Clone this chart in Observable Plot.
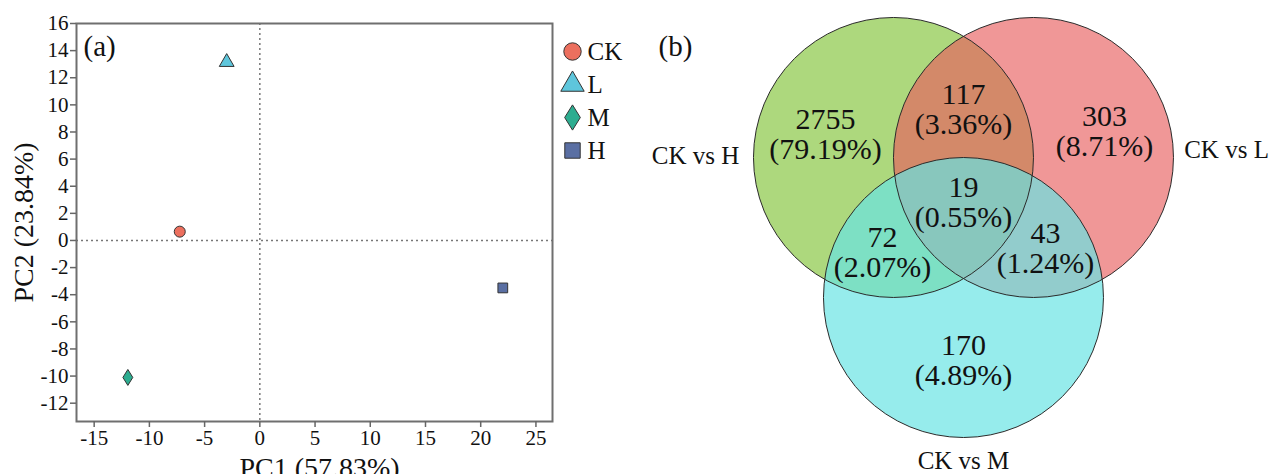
<!DOCTYPE html>
<html><head><meta charset="utf-8">
<script src="https://cdn.jsdelivr.net/npm/d3@7"></script>
<script src="https://cdn.jsdelivr.net/npm/@observablehq/plot@0.6"></script>
<style>
html,body{margin:0;padding:0;background:#fff;}
#wrap{position:relative;width:1270px;height:474px;overflow:hidden;font-family:"Liberation Serif","Times New Roman",serif;}
#wrap svg{position:absolute;top:0;overflow:visible;}
</style></head><body><div id="wrap"></div>
<script>
// ---------- data: panel (a) PCA ----------
const groups = ["CK", "L", "M", "H"];
const pc1 = [-7.25, -3.0, -11.95, 22.0];
const pc2 = [0.65, 13.15, -10.1, -3.5];
const xTicks = [-15, -10, -5, 0, 5, 10, 15, 20, 25];
const yTicks = [-12, -10, -8, -6, -4, -2, 0, 2, 4, 6, 8, 10, 12, 14, 16];
const xLabel = "PC1 (57.83%)";
const yLabel = "PC2 (23.84%)";

// ---------- data: panel (b) Venn ----------
const sets = ["CK vs H", "CK vs L", "CK vs M"];
const regions = ["H", "H∩L", "L", "H∩L∩M", "H∩M", "L∩M", "M"];
const counts = [2755, 117, 303, 19, 72, 43, 170];
const percents = ["79.19%", "3.36%", "8.71%", "0.55%", "2.07%", "1.24%", "4.89%"];

// ---------- styles ----------
const serif = "'Liberation Serif', 'Times New Roman', serif";
const groupFill = ["#EC6F5E", "#5EC6DC", "#2DAD90", "#5A6FA3"];
const tallDiamond = {
  draw(ctx, size) {
    const r = Math.sqrt(size / Math.PI), w = r * 0.9, h = r * 1.45;
    ctx.moveTo(0, -h); ctx.lineTo(w, 0); ctx.lineTo(0, h); ctx.lineTo(-w, 0); ctx.closePath();
  }
};
const groupSymbol = ["circle", "triangle", tallDiamond, "square"];

// Venn geometry (unit = circle radius), kept apart from the data
const setCenter = [[-0.5, 0], [0.5, 0], [0, -1]];
const setLabelPos = [[-1.914, 0.014], [1.879, 0.05], [0, -2.17]];
const regionPos = [[-0.986, 0.164], [0, 0.343], [1.007, 0.186], [0, -0.321], [-0.579, -0.679], [0.586, -0.65], [0, -1.45]];
const setFill = ["#ADD87D", "#E85F5F", "#67E4E4"];
const setOpacity = [1, 0.65, 0.69];

const wrap = document.getElementById("wrap");

// ---------- panel (a) ----------
const pts = groups.map((g, i) => ({group: g, x: pc1[i], y: pc2[i]}));
const pca = Plot.plot({
  width: 640, height: 474,
  marginLeft: 76, marginRight: 88, marginTop: 23, marginBottom: 53,
  style: {fontFamily: serif, color: "#111", background: "transparent"},
  x: {domain: [-16.6, 26.5]},
  y: {domain: [-13.35, 16]},
  symbol: {domain: groups, range: groupSymbol},
  color: {domain: groups, range: groupFill},
  marks: [
    Plot.ruleX([0], {stroke: "#777", strokeWidth: 1.5, strokeDasharray: "2,3"}),
    Plot.ruleY([0], {stroke: "#777", strokeWidth: 1.5, strokeDasharray: "2,3"}),
    Plot.frame({stroke: "#6f6f6f", strokeWidth: 2}),
    Plot.axisX({ticks: xTicks, tickSize: 6, tickPadding: 3, tickFormat: d => String(d), fontSize: 21, stroke: "#666", strokeWidth: 1.5, label: null}),
    Plot.axisY({ticks: yTicks, tickSize: 6, tickPadding: 2, tickFormat: d => String(d), fontSize: 21, stroke: "#666", strokeWidth: 1.5, label: null}),
    Plot.dot(pts, {x: "x", y: "y", symbol: "group", fill: "group", stroke: "#333", strokeWidth: 1, r: 5.5}),
    Plot.text([xLabel], {frameAnchor: "bottom", lineAnchor: "middle", textAnchor: "middle", dx: 5, dy: 47, fontSize: 28, fill: "#111"}),
    Plot.text([yLabel], {frameAnchor: "left", lineAnchor: "middle", textAnchor: "middle", dx: -52, rotate: -90, fontSize: 28, fill: "#111"}),
    Plot.text(["(a)"], {frameAnchor: "top-left", lineAnchor: "middle", textAnchor: "start", dx: 7, dy: 23, fontSize: 29, fill: "#111"})
  ]
});
pca.style.left = "0px";
wrap.appendChild(pca);

// legend
const legend = Plot.plot({
  width: 90, height: 140, margin: 0,
  style: {fontFamily: serif, color: "#111", background: "transparent"},
  x: {domain: [0, 1], range: [16, 31], axis: null},
  y: {type: "point", domain: groups, range: [20, 120], padding: 0, axis: null},
  symbol: {domain: groups, range: groupSymbol},
  color: {domain: groups, range: groupFill},
  marks: [
    Plot.dot(groups, {x: () => 0, y: d => d, symbol: d => d, fill: d => d, stroke: "#333", strokeWidth: 1, r: 8.7}),
    Plot.text(groups, {x: () => 1, y: d => d, text: d => d, textAnchor: "start", fontSize: 25, fill: "#111"})
  ]
});
legend.style.left = "556px";
legend.style.top = "30px";
wrap.appendChild(legend);

// ---------- panel (b) ----------
const vW = 630, vH = 474;
const vx = [-2.307, 2.193], vy = [-2.264, 1.121];
const unitPx = vW / (vx[1] - vx[0]);
const setRows = sets.map((s, i) => ({name: s, cx: setCenter[i][0], cy: setCenter[i][1], lx: setLabelPos[i][0], ly: setLabelPos[i][1]}));
const regionRows = regions.map((r, i) => ({region: r, label: counts[i] + "\n(" + percents[i] + ")", x: regionPos[i][0], y: regionPos[i][1]}));

const venn = Plot.plot({
  width: vW, height: vH, margin: 0,
  style: {fontFamily: serif, color: "#111", background: "transparent"},
  x: {domain: vx, axis: null},
  y: {domain: vy, axis: null},
  marks: [
    ...setRows.map((row, i) => Plot.dot([row], {x: "cx", y: "cy", r: unitPx, fill: setFill[i], fillOpacity: setOpacity[i], stroke: "none"})),
    Plot.dot(setRows, {x: "cx", y: "cy", r: unitPx, fill: "none", stroke: "#2a2a2a", strokeWidth: 1}),
    Plot.text(regionRows, {x: "x", y: "y", text: "label", fontSize: 30, lineHeight: 1.0, fill: "#111"}),
    Plot.text(setRows, {x: "lx", y: "ly", text: "name", fontSize: 25, fill: "#111"}),
    Plot.text(["(b)"], {frameAnchor: "top-left", lineAnchor: "middle", textAnchor: "start", dx: 18, dy: 46, fontSize: 29, fill: "#111"})
  ]
});
venn.style.left = "640px";
wrap.appendChild(venn);
</script>
</body></html>
